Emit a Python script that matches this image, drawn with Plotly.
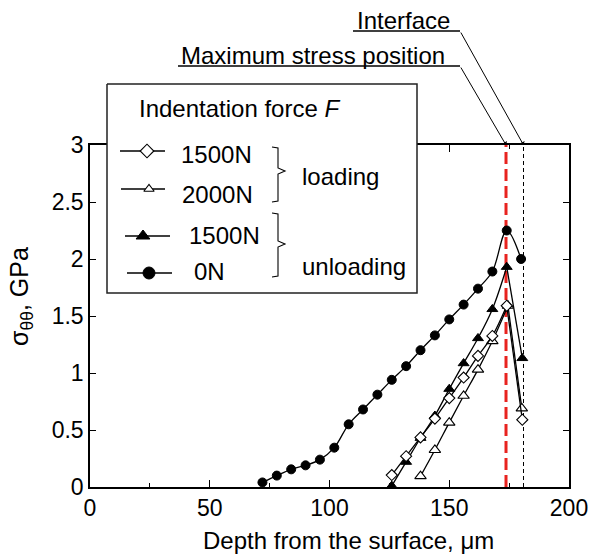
import plotly.graph_objects as go

# ---------------- data ----------------
load1500_depth = [126, 132, 138, 144, 150, 156, 162, 168, 174, 180.5]
load1500_stress = [0.105, 0.27, 0.435, 0.60, 0.78, 0.96, 1.15, 1.325, 1.59, 0.59]

load2000_depth = [138, 144, 150, 156, 162, 168, 174.5, 180.3]
load2000_stress = [0.095, 0.325, 0.565, 0.80, 1.03, 1.28, 1.59, 0.69]

unload1500_depth = [126, 132, 138, 144, 150, 156, 162, 168, 174, 180.5]
unload1500_stress = [0.01, 0.22, 0.43, 0.625, 0.86, 1.085, 1.305, 1.56, 1.93, 1.13]

unload0_depth = [72, 78, 84, 90, 96, 102, 108, 114, 120, 126, 132, 138, 144,
                 150, 156, 162, 168, 174, 180]
unload0_stress = [0.04, 0.10, 0.155, 0.19, 0.24, 0.345, 0.55, 0.68, 0.81, 0.94,
                  1.06, 1.20, 1.33, 1.47, 1.60, 1.74, 1.89, 2.25, 2.00]

max_stress_depth = 173.7
interface_depth = 181.0

x_tickvals = [0, 50, 100, 150, 200]
x_minor_tickvals = [25, 75, 125, 175]
y_tickvals = [0, 0.5, 1, 1.5, 2, 2.5, 3]
y_ticktext = ["0", "0.5", "1", "1.5", "2", "2.5", "3"]

legend_title = "Indentation force <i>F</i>"
legend_labels = ["1500N", "2000N", "1500N", "0N"]
group_labels = ["loading", "unloading"]
label_interface = "Interface"
label_max_stress = "Maximum stress position"
x_title = "Depth from the surface, \u03bcm"
y_title = "\u03c3<sub>\u03b8\u03b8</sub>, GPa"

# ---------------- layout geometry (pixels) ----------------
W, H = 590, 557
PL, PR, PT, PB = 90, 569, 145, 487
FONT = "Liberation Sans, Arial, sans-serif"


def px_x(d):
    return PL + (d - 0) * (PR - PL) / 200.0


fig = go.Figure()

# reference lines
fig.add_trace(go.Scatter(x=[max_stress_depth, max_stress_depth], y=[0, 3], mode="lines",
                         line=dict(color="#e8231f", width=3, dash="12px,5px"),
                         xaxis="x", yaxis="y", hoverinfo="skip"))
fig.add_trace(go.Scatter(x=[interface_depth, interface_depth], y=[0, 3], mode="lines",
                         line=dict(color="black", width=1, dash="4px,3px"),
                         xaxis="x", yaxis="y", hoverinfo="skip"))

mk_circle = dict(symbol="circle", size=9, color="black", line=dict(color="black", width=1))
mk_tri_f = dict(symbol="triangle-up", size=9.5, color="black", line=dict(color="black", width=1))
mk_tri_o = dict(symbol="triangle-up", size=10, color="white", line=dict(color="black", width=1.1))
mk_dia_o = dict(symbol="diamond", size=8.5, color="white", line=dict(color="black", width=1.1))

LINE = dict(color="black", width=1.3)


def add_series(x, y, mk, split):
    if split:
        k = y.index(max(y))
        fig.add_trace(go.Scatter(x=x[k:], y=y[k:], mode="lines", line=LINE,
                                 xaxis="x", yaxis="y"))
        fig.add_trace(go.Scatter(x=x[:k + 1], y=y[:k + 1], mode="lines",
                                 line=dict(LINE, shape="spline", smoothing=1),
                                 xaxis="x", yaxis="y"))
    else:
        fig.add_trace(go.Scatter(x=x, y=y, mode="lines",
                                 line=dict(LINE, shape="spline", smoothing=1),
                                 xaxis="x", yaxis="y"))
    fig.add_trace(go.Scatter(x=x, y=y, mode="markers", marker=mk, xaxis="x", yaxis="y"))


add_series(unload0_depth, unload0_stress, mk_circle, False)
add_series(unload1500_depth, unload1500_stress, mk_tri_f, True)
add_series(load2000_depth, load2000_stress, mk_tri_o, True)
add_series(load1500_depth, load1500_stress, mk_dia_o, True)

# ---------------- hand-made legend on a full-figure pixel overlay ----------------
BOX = (107, 84, 417, 293)
fig.add_trace(go.Scatter(x=[BOX[0], BOX[2], BOX[2], BOX[0], BOX[0]],
                         y=[BOX[1], BOX[1], BOX[3], BOX[3], BOX[1]],
                         mode="lines", fill="toself", fillcolor="white",
                         line=dict(color="#222", width=1.5), xaxis="x2", yaxis="y2"))

legend_rows = [
    dict(x0=120, x1=165, xm=147, y=151, mk=dict(mk_dia_o, size=10.5), tx=179, ty=154.5),
    dict(x0=121, x1=165, xm=149, y=189, mk=dict(mk_tri_o, size=9), tx=180, ty=194),
    dict(x0=125, x1=170, xm=143, y=236, mk=dict(mk_tri_f, size=12), tx=187, ty=235),
    dict(x0=127, x1=172, xm=149, y=273, mk=dict(mk_circle, size=12), tx=192, ty=271.5),
]
for row in legend_rows:
    fig.add_trace(go.Scatter(x=[row["x0"], row["x1"]], y=[row["y"], row["y"]], mode="lines",
                             line=LINE, xaxis="x2", yaxis="y2"))
    fig.add_trace(go.Scatter(x=[row["xm"]], y=[row["y"]], mode="markers", marker=row["mk"],
                             xaxis="x2", yaxis="y2"))

annotations = []
for row, lab in zip(legend_rows, legend_labels):
    annotations.append(dict(x=row["tx"], y=row["ty"], text=lab, xref="x2", yref="y2",
                            xanchor="left", yanchor="middle", showarrow=False,
                            font=dict(size=24, family=FONT, color="black")))
annotations.append(dict(x=137, y=108.5, text=legend_title, xref="x2", yref="y2",
                        xanchor="left", yanchor="middle", showarrow=False,
                        font=dict(size=24, family=FONT, color="black")))
for lab, yy in zip(group_labels, [176, 266]):
    annotations.append(dict(x=300, y=yy, text=lab, xref="x2", yref="y2",
                            xanchor="left", yanchor="middle", showarrow=False,
                            font=dict(size=24, family=FONT, color="black")))

# annotations at top with leader arrows
annotations.append(dict(x=355, y=20, text=label_interface, xref="x2", yref="y2",
                        xanchor="left", yanchor="middle", showarrow=False,
                        font=dict(size=24, family=FONT, color="black")))
annotations.append(dict(x=179, y=55, text=label_max_stress, xref="x2", yref="y2",
                        xanchor="left", yanchor="middle", showarrow=False,
                        font=dict(size=24, family=FONT, color="black")))
annotations.append(dict(x=interface_depth, y=3, xref="x", yref="y", text="",
                        showarrow=True, arrowhead=1, arrowsize=1, arrowwidth=1,
                        arrowcolor="black", ax=460 - px_x(interface_depth), ay=31 - PT,
                        axref="pixel", ayref="pixel", standoff=0))
annotations.append(dict(x=max_stress_depth, y=3, xref="x", yref="y", text="",
                        showarrow=True, arrowhead=1, arrowsize=1, arrowwidth=1,
                        arrowcolor="black", ax=460 - px_x(max_stress_depth), ay=66 - PT,
                        axref="pixel", ayref="pixel", standoff=0))

# axis titles
annotations.append(dict(x=348, y=540, text=x_title, xref="x2", yref="y2",
                        xanchor="center", yanchor="middle", showarrow=False,
                        font=dict(size=24, family=FONT, color="black")))
annotations.append(dict(x=21, y=297, text=y_title, xref="x2", yref="y2", textangle=-90,
                        xanchor="center", yanchor="middle", showarrow=False,
                        font=dict(size=25, family=FONT, color="black")))

shapes = [
    dict(type="line", x0=353, x1=460, y0=31, y1=31, xref="x2", yref="y2",
         line=dict(color="black", width=1.5)),
    dict(type="line", x0=178, x1=460, y0=66, y1=66, xref="x2", yref="y2",
         line=dict(color="black", width=1.5)),
    dict(type="path", xref="x2", yref="y2", line=dict(color="black", width=1.1),
         path="M272,147 L278,148 L278,168 L285,171 L278,174 L278,201 L272,202"),
    dict(type="path", xref="x2", yref="y2", line=dict(color="black", width=1.1),
         path="M272,213 L278,214 L278,241 L285,244 L278,247 L278,276 L272,277"),
]

axis_common = dict(showgrid=False, zeroline=False, showline=True, linecolor="black",
                   linewidth=1.5, mirror="ticks", ticks="inside", tickcolor="black",
                   tickwidth=1.2, tickfont=dict(size=23, family=FONT, color="black"))

fig.update_layout(
    width=W, height=H, autosize=False,
    margin=dict(l=0, r=0, t=0, b=0, pad=0, autoexpand=False),
    paper_bgcolor="white", plot_bgcolor="rgba(0,0,0,0)",
    showlegend=False, font=dict(family=FONT, color="black"),
    xaxis=dict(axis_common, domain=[PL / W, PR / W], range=[0, 200], tickvals=x_tickvals,
               ticklen=7, anchor="y",
               minor=dict(tickvals=x_minor_tickvals, ticks="inside", ticklen=4,
                          tickcolor="black", tickwidth=1.2)),
    yaxis=dict(axis_common, domain=[1 - PB / H, 1 - PT / H], range=[0, 3],
               tickvals=y_tickvals, ticktext=y_ticktext, ticklen=6, anchor="x"),
    xaxis2=dict(domain=[0, 1], range=[0, W], visible=False, anchor="y2", fixedrange=True),
    yaxis2=dict(domain=[0, 1], range=[H, 0], visible=False, anchor="x2", fixedrange=True),
    annotations=annotations,
    shapes=shapes,
)

fig.write_html("out.html")
